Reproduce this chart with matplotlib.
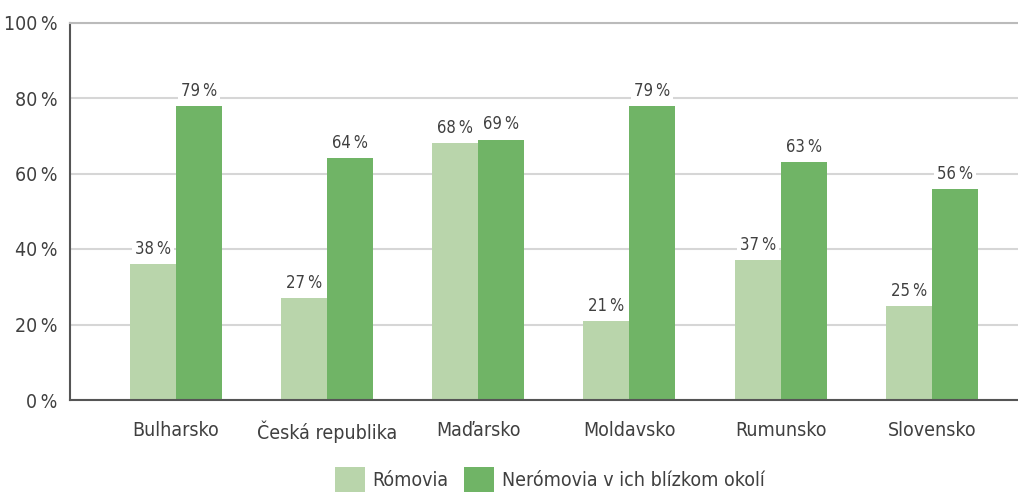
import matplotlib.pyplot as plt
import numpy as np

plt.rcParams['font.family'] = ['DejaVu Sans']
plt.rcParams['font.stretch'] = 'condensed'

countries = ['Bulharsko', 'Česká republika', 'Maďarsko', 'Moldavsko', 'Rumunsko', 'Slovensko']
roma = [36, 27, 68, 21, 37, 25]
non_roma = [78, 64, 69, 78, 63, 56]
roma_labels = [38, 27, 68, 21, 37, 25]
non_roma_labels = [79, 64, 69, 79, 63, 56]
series_names = ['Rómovia', 'Nerómovia v ich blízkom okolí']
yticks = [0, 20, 40, 60, 80, 100]

light = '#b9d5ab'
dark = '#70b466'
text_col = '#404040'

fig = plt.figure(figsize=(10.18, 4.95), dpi=100)
ax = fig.add_axes([70 / 1018, 95 / 495, 948 / 1018, 377.5 / 495])
ax.set_axisbelow(True)

x = np.arange(len(countries))
w = 0.304
b1 = ax.bar(x - w / 2, roma, w, color=light, label=series_names[0], zorder=2)
b2 = ax.bar(x + w / 2, non_roma, w, color=dark, label=series_names[1], zorder=2)

# value labels; white box hides the grid but sits under the bars
for bars, labs in ((b1, roma_labels), (b2, non_roma_labels)):
    for bar, lab in zip(bars, labs):
        ax.text(bar.get_x() + bar.get_width() / 2, bar.get_height() + 1.6, f'{lab}\u2009%',
                ha='center', va='bottom', fontsize=12, color=text_col, zorder=1.8,
                bbox=dict(facecolor='white', edgecolor='none', pad=2))

ax.set_xlim(-0.70, 5.57)
ax.set_ylim(0, 100)
ax.set_yticks(yticks)
ax.set_yticklabels([f'{t}\u2009%' for t in yticks], fontsize=14, color=text_col)
ax.set_xticks(x)
ax.set_xticklabels(countries, fontsize=14, color=text_col)
ax.tick_params(axis='both', length=0)
ax.tick_params(axis='y', pad=9)
ax.tick_params(axis='x', pad=15)

ax.grid(axis='y', color='#d6d6d6', linewidth=1.5)
ax.spines['right'].set_visible(False)
ax.spines['top'].set_color('#bbbbbb')
ax.spines['top'].set_linewidth(1.5)
ax.spines['left'].set_color('#555555')
ax.spines['left'].set_linewidth(1.5)
ax.spines['bottom'].set_color('#555555')
ax.spines['bottom'].set_linewidth(1.5)
for sp in ax.spines.values():
    sp.set_zorder(3)

fig.legend(loc='lower center', bbox_to_anchor=(0.54, -0.014), ncol=2, frameon=False,
           fontsize=14, handlelength=1.55, handleheight=1.65, handletextpad=0.4,
           columnspacing=0.8, borderpad=0, labelcolor=text_col)

fig.savefig('out.png', dpi=100)
